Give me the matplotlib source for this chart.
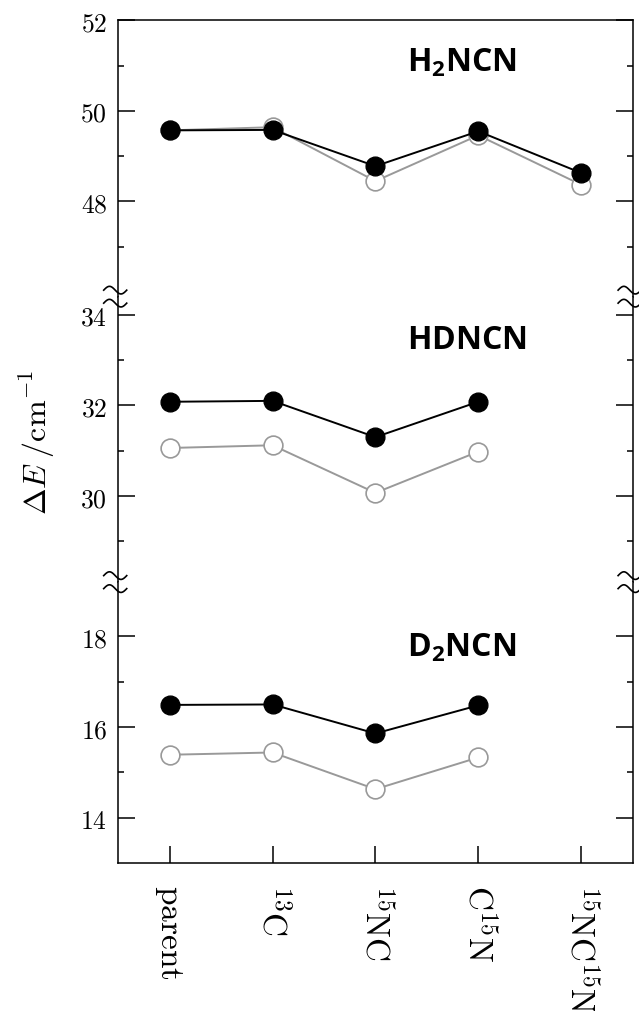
import numpy as np
import matplotlib.pyplot as plt
from matplotlib.lines import Line2D
from matplotlib.ticker import FixedLocator, FuncFormatter

plt.rcParams['mathtext.fontset'] = 'cm'
plt.rcParams['mathtext.bf'] = 'Open Sans:bold'
plt.rcParams['mathtext.rm'] = 'Open Sans:bold'

labels = [r'$\mathrm{parent}$', r'$^{13}\mathrm{C}$', r'$^{15}\mathrm{NC}$',
          r'$\mathrm{C}^{15}\mathrm{N}$', r'$^{15}\mathrm{NC}^{15}\mathrm{N}$']
x = np.arange(len(labels))

# filled = black circles, open = grey circles
h2_filled = [49.57, 49.58, 48.78, 49.55, 48.63]
h2_open = [49.57, 49.64, 48.45, 49.46, 48.37]
hd_filled = [32.08, 32.10, 31.30, 32.08]
hd_open = [31.06, 31.12, 30.07, 30.98]
d2_filled = [16.49, 16.50, 15.86, 16.48]
d2_open = [15.39, 15.44, 14.63, 15.33]

names = [r'$\mathbf{H_2NCN}$', r'$\mathbf{HDNCN}$', r'$\mathbf{D_2NCN}$']
name_y = [50.89, 33.26, 17.57]
ylims = [(45.9, 52), (28.1, 34.4), (13, 19.2)]
majors = [[48, 50, 52], [30, 32, 34], [14, 16, 18]]
minors = [[47, 49, 51], [29, 31, 33], [15, 17]]

fig, axes = plt.subplots(3, 1, figsize=(6.39, 10.12), dpi=100, sharex=True,
                         gridspec_kw=dict(height_ratios=[l[1] - l[0] for l in ylims]))
fig.subplots_adjust(left=0.185, right=0.990, top=0.979, bottom=0.1462, hspace=0)

series = [(h2_filled, h2_open), (hd_filled, hd_open), (d2_filled, d2_open)]
for i, ax in enumerate(axes):
    filled, opn = series[i]
    ax.plot(x[:len(opn)], opn, '-o', color='#999999', lw=1.4, ms=13.5,
            mfc='white', mec='#999999', mew=1.2, zorder=2)
    ax.plot(x[:len(filled)], filled, '-o', color='black', lw=1.4, ms=13.5,
            mfc='black', mec='black', zorder=3)
    ax.set_ylim(*ylims[i])
    ax.yaxis.set_major_locator(FixedLocator(majors[i]))
    ax.yaxis.set_minor_locator(FixedLocator(minors[i]))
    ax.yaxis.set_major_formatter(FuncFormatter(lambda v, p: r'$%d$' % v))
    ax.tick_params(axis='y', which='both', direction='in', left=True, right=True,
                   labelsize=18.5, pad=8, width=1.1)
    ax.tick_params(axis='y', which='major', length=12.5)
    ax.tick_params(axis='y', which='minor', length=4.5)
    ax.text(2.31, name_y[i], names[i], fontsize=23, ha='left', va='baseline',
            math_fontfamily='custom')
    for s in ax.spines.values():
        s.set_linewidth(1.1)
    if i > 0:
        ax.spines['top'].set_visible(False)
    if i < 2:
        ax.spines['bottom'].set_visible(False)
        ax.tick_params(axis='x', which='both', bottom=False, top=False)

ax = axes[2]
ax.set_xlim(-0.5, 4.5)
ax.set_xticks(x)
ax.set_xticklabels(labels, rotation=270, fontsize=24)
ax.tick_params(axis='x', direction='in', length=12.5, width=1.1, top=False, pad=15)

fig.text(37 / 639, 0.5627, r'$\Delta E\;/\mathrm{cm}^{-1}$', rotation=90,
         ha='center', va='center', fontsize=23)

# break marks at the joins
W, H = 639.0, 1012.0
t = np.linspace(0, 1, 50)
for upper, lower in [(axes[0], axes[1]), (axes[1], axes[2])]:
    yb = upper.get_position().y0
    for xs in (upper.get_position().x0, upper.get_position().x1):
        for off in (6.5, -6.5):
            xx = xs + (-3 + (t - 0.5) * 23) / W
            yy = yb + (off + 3.8 * np.sin(2 * np.pi * t)) / H
            fig.add_artist(Line2D(xx, yy, transform=fig.transFigure,
                                  color='black', lw=1.2))

fig.savefig('out.png', dpi=100)
